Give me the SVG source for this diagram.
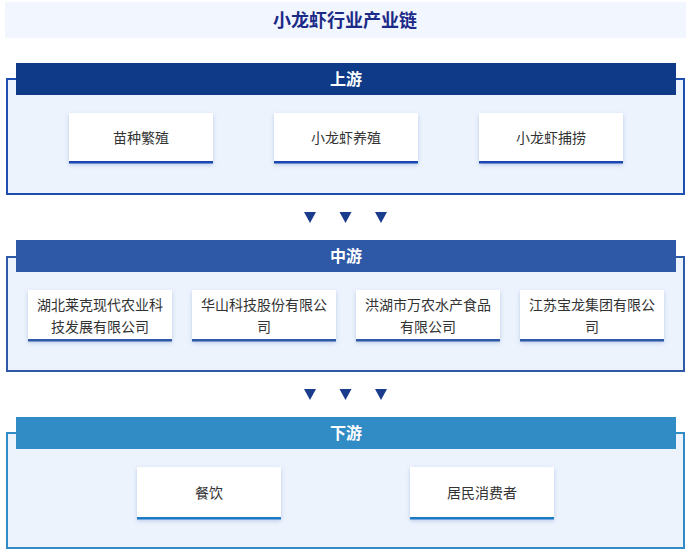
<svg xmlns="http://www.w3.org/2000/svg" width="692" height="553" viewBox="0 0 692 553">
<style>
.t{font-family:"Noto Sans CJK SC","Liberation Sans",sans-serif;}
.title{font-size:18px;font-weight:bold;fill:#1a2a86;text-anchor:middle;}
.hd{font-size:16px;font-weight:bold;fill:#ffffff;text-anchor:middle;}
.bx{font-size:14px;fill:#333333;text-anchor:middle;}
.frame{fill:#edf3fd;stroke-width:2;}
.box{fill:#ffffff;filter:url(#sh);}
.tri{fill:#1a3c8c;}
</style>
<defs>
<filter id="sh" x="-10%" y="-20%" width="120%" height="150%">
<feDropShadow dx="0" dy="2" stdDeviation="2" flood-color="#5b7fc4" flood-opacity="0.35"/>
</filter>
</defs>
<rect width="692" height="553" fill="#ffffff"/>
<g id="title">
<rect x="5" y="2" width="681" height="36" fill="#f2f6fe"/>
<text class="t title" x="345" y="26.5">小龙虾行业产业链</text>
</g>

<g id="upstream">
<rect class="frame" x="7" y="79" width="677" height="115" stroke="#1e4eb0"/>
<rect x="16" y="63" width="660" height="32" fill="#0e3a87"/>
<text class="t hd" x="346" y="85">上游</text>
</g>
<g id="u1"><rect class="box" x="69" y="113" width="144" height="50"/><rect x="69" y="161" width="144" height="2.5" fill="#1a47b0"/><text class="t bx" x="141" y="143">苗种繁殖</text></g>
<g id="u2"><rect class="box" x="274" y="113" width="144" height="50"/><rect x="274" y="161" width="144" height="2.5" fill="#1a47b0"/><text class="t bx" x="346" y="143">小龙虾养殖</text></g>
<g id="u3"><rect class="box" x="479" y="113" width="144" height="50"/><rect x="479" y="161" width="144" height="2.5" fill="#1a47b0"/><text class="t bx" x="551" y="143">小龙虾捕捞</text></g>

<g id="connectors">
<polygon class="tri" points="304,212 316,212 310,223"/>
<polygon class="tri" points="339.5,212 351.5,212 345.5,223"/>
<polygon class="tri" points="375,212 387,212 381,223"/>
<polygon class="tri" points="304,389 316,389 310,400"/>
<polygon class="tri" points="339.5,389 351.5,389 345.5,400"/>
<polygon class="tri" points="375,389 387,389 381,400"/>
</g>

<g id="midstream">
<rect class="frame" x="7" y="257" width="677" height="114" stroke="#2e59a6"/>
<rect x="16" y="240" width="660" height="32" fill="#2e59a6"/>
<text class="t hd" x="346" y="262">中游</text>
</g>
<g id="m1"><rect class="box" x="28" y="290" width="144" height="51"/><rect x="28" y="339" width="144" height="2.5" fill="#2e59a6"/><text class="t bx" x="100" y="310">湖北莱克现代农业科</text><text class="t bx" x="100" y="332">技发展有限公司</text></g>
<g id="m2"><rect class="box" x="192" y="290" width="144" height="51"/><rect x="192" y="339" width="144" height="2.5" fill="#2e59a6"/><text class="t bx" x="264" y="310">华山科技股份有限公</text><text class="t bx" x="264" y="332">司</text></g>
<g id="m3"><rect class="box" x="356" y="290" width="144" height="51"/><rect x="356" y="339" width="144" height="2.5" fill="#2e59a6"/><text class="t bx" x="428" y="310">洪湖市万农水产食品</text><text class="t bx" x="428" y="332">有限公司</text></g>
<g id="m4"><rect class="box" x="520" y="290" width="144" height="51"/><rect x="520" y="339" width="144" height="2.5" fill="#2e59a6"/><text class="t bx" x="592" y="310">江苏宝龙集团有限公</text><text class="t bx" x="592" y="332">司</text></g>

<g id="downstream">
<rect class="frame" x="7" y="433" width="677" height="115" stroke="#318bc5"/>
<rect x="16" y="417" width="660" height="32" fill="#318bc5"/>
<text class="t hd" x="346" y="439">下游</text>
</g>
<g id="d1"><rect class="box" x="137" y="467" width="144" height="52"/><rect x="137" y="517" width="144" height="2.5" fill="#1c7ac4"/><text class="t bx" x="209" y="498">餐饮</text></g>
<g id="d2"><rect class="box" x="410" y="467" width="144" height="52"/><rect x="410" y="517" width="144" height="2.5" fill="#1c7ac4"/><text class="t bx" x="482" y="498">居民消费者</text></g>
</svg>
